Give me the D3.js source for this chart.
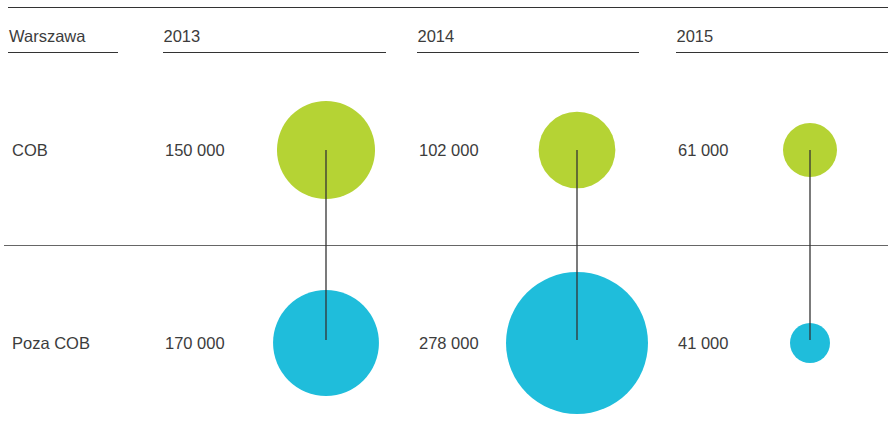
<!DOCTYPE html>
<html>
<head>
<meta charset="utf-8">
<script src="https://cdn.jsdelivr.net/npm/d3@7/dist/d3.min.js"></script>
<style>
  body { margin: 0; background: #fff; }
  text { font-family: "Liberation Sans", Arial, sans-serif; font-size: 16.5px; fill: #3c3c3c; }
</style>
</head>
<body>
<svg id="chart"></svg>
<script>

// data
var years = ["2013", "2014", "2015"];
var rows = ["COB", "Poza COB"];
var cobValues = [150000, 102000, 61000];
var pozaValues = [170000, 278000, 41000];
var cornerLabel = "Warszawa";

// layout
var config = {
    w: 888,
    h: 435,
    left: 8,
    topLine: 7.5,
    headerY: 42,
    underlineY: 52.5,
    midLine: 245.5
};

var svg = d3.select("#chart")
  .attr("width", config.w)
  .attr("height", config.h);

// column start for each year, and circle centre
var colX = d3.scaleOrdinal().domain(years).range([163, 417, 676]);
var colEnd = d3.scaleOrdinal().domain(years).range([386, 639, 888]);
var circleX = d3.scaleOrdinal().domain(years).range([326, 577, 810]);

// row centre
var rowY = d3.scaleOrdinal().domain(rows).range([150, 343]);
var rowColor = d3.scaleOrdinal().domain(rows).range(["#b5d334", "#1fbddb"]);

// circle size by value
var allValues = cobValues.concat(pozaValues);
var radius = d3.scaleSqrt()
  .domain(d3.extent(allValues))
  .range([20, 71]);

// build table
var table = [];
years.forEach(function(year, i) {
  table.push({ year: year, row: rows[0], value: cobValues[i] });
  table.push({ year: year, row: rows[1], value: pozaValues[i] });
});

var fmt = function(v) { return d3.format(",")(v).replace(/,/g, " "); };

// rules
svg.append("line")
  .attr("x1", config.left).attr("x2", config.w)
  .attr("y1", config.topLine).attr("y2", config.topLine)
  .attr("stroke", "#333").attr("stroke-width", 1.2);

svg.append("line")
  .attr("x1", 4).attr("x2", config.w)
  .attr("y1", config.midLine).attr("y2", config.midLine)
  .attr("stroke", "#666").attr("stroke-width", 1);

// header
svg.append("text")
  .attr("x", config.left + 1)
  .attr("y", config.headerY)
  .text(cornerLabel);

svg.append("line")
  .attr("x1", config.left).attr("x2", 118)
  .attr("y1", config.underlineY).attr("y2", config.underlineY)
  .attr("stroke", "#333").attr("stroke-width", 1.2);

svg.selectAll("text.year")
  .data(years)
  .enter()
  .append("text")
    .attr("class", "year")
    .attr("x", function(d) { return colX(d) + 0.5; })
    .attr("y", config.headerY)
    .text(function(d) { return d; });

svg.selectAll("line.under")
  .data(years)
  .enter()
  .append("line")
    .attr("class", "under")
    .attr("x1", colX).attr("x2", colEnd)
    .attr("y1", config.underlineY).attr("y2", config.underlineY)
    .attr("stroke", "#333").attr("stroke-width", 1.2);

// row labels
svg.selectAll("text.row")
  .data(rows)
  .enter()
  .append("text")
    .attr("class", "row")
    .attr("x", 12)
    .attr("y", function(d) { return rowY(d) + 5.5; })
    .text(function(d) { return d; });

// circles
svg.selectAll("circle")
  .data(table)
  .enter()
  .append("circle")
    .attr("cx", function(d) { return circleX(d.year); })
    .attr("cy", function(d) { return rowY(d.row); })
    .attr("r", function(d) { return radius(d.value); })
    .style("fill", function(d) { return rowColor(d.row); });

// connectors
svg.selectAll("line.link")
  .data(years)
  .enter()
  .append("line")
    .attr("class", "link")
    .attr("x1", circleX).attr("x2", circleX)
    .attr("y1", rowY(rows[0]))
    .attr("y2", rowY(rows[1]) - 3)
    .attr("stroke", "#333").attr("stroke-width", 1.3);

// value labels
svg.selectAll("text.value")
  .data(table)
  .enter()
  .append("text")
    .attr("class", "value")
    .attr("x", function(d) { return colX(d.year) + 2; })
    .attr("y", function(d) { return rowY(d.row) + 5.5; })
    .text(function(d) { return fmt(d.value); });

</script>
</body>
</html>
